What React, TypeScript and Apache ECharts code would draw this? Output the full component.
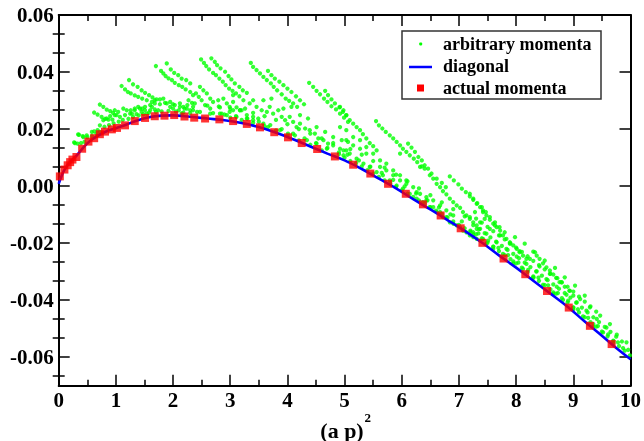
import React, { useEffect, useRef } from "react";
import * as echarts from "echarts";

const FONT = "Liberation Serif, Times New Roman, Times, serif";

// axis ticks
const xTickValues = [0, 1, 2, 3, 4, 5, 6, 7, 8, 9, 10];
const yTickValues = [-0.06, -0.04, -0.02, 0, 0.02, 0.04, 0.06];

// actual momenta (red squares)
const actualMomenta: [number, number][] = [
  [0.02, 0.0034], [0.10, 0.0058], [0.157, 0.0073], [0.20, 0.0084], [0.24, 0.0093],
  [0.31, 0.0102], [0.41, 0.0131], [0.52, 0.0156], [0.62, 0.0168], [0.72, 0.0182],
  [0.81, 0.0191], [0.93, 0.0199], [1.02, 0.0204], [1.16, 0.0213], [1.33, 0.0228],
  [1.51, 0.0239], [1.68, 0.0245], [1.85, 0.0247], [2.02, 0.0249], [2.20, 0.0244],
  [2.37, 0.0240], [2.56, 0.0237], [2.81, 0.0234], [3.05, 0.0228], [3.29, 0.0218],
  [3.52, 0.0206], [3.77, 0.0189], [4.01, 0.0171], [4.25, 0.0151], [4.52, 0.0130],
  [4.83, 0.0104], [5.15, 0.0075], [5.45, 0.0044], [5.76, 0.0008], [6.07, -0.0027],
  [6.37, -0.0064], [6.68, -0.0103], [7.03, -0.0148], [7.41, -0.0199], [7.78, -0.0254],
  [8.16, -0.0309], [8.54, -0.0368], [8.92, -0.0426], [9.29, -0.0490], [9.67, -0.0554],
];

// diagonal (blue line)
const diagonal: [number, number][] = [
  [0, 0.0008], [0.05, 0.0035], [0.1, 0.0057], [0.2, 0.0085], [0.3, 0.0104], [0.4, 0.0128],
  [0.5, 0.0150], [0.6, 0.0166], [0.8, 0.0189], [1.0, 0.0203], [1.2, 0.0217], [1.4, 0.0232],
  [1.6, 0.0242], [1.8, 0.0247], [2.0, 0.0248], [2.3, 0.0243], [2.6, 0.0237], [2.9, 0.0231],
  [3.2, 0.0221], [3.5, 0.0207], [3.8, 0.0187], [4.1, 0.0164], [4.4, 0.0139], [4.7, 0.0114],
  [5.0, 0.0090], [5.3, 0.0060], [5.6, 0.0026], [5.9, -0.0008], [6.2, -0.0046], [6.5, -0.0082],
  [6.8, -0.0119], [7.1, -0.0157], [7.4, -0.0198], [7.7, -0.0243], [8.0, -0.0286], [8.3, -0.0332],
  [8.6, -0.0377], [8.9, -0.0423], [9.2, -0.0475], [9.5, -0.0525], [9.8, -0.0576], [10, -0.0607],
];

// arbitrary momenta (green dots), grouped by region
const greenLow: [number, number][] = [
  [0.285, 0.0151], [0.34, 0.0181], [0.42, 0.0175], [0.49, 0.0178], [0.58, 0.0190], [0.27, 0.0153],
  [0.33, 0.0149], [0.39, 0.0151], [0.45, 0.0155], [0.355, 0.0180], [0.43, 0.0172], [0.50, 0.0172],
  [0.58, 0.0175], [0.66, 0.0184], [0.72, 0.0190], [0.62, 0.0192], [0.68, 0.0196], [0.72, 0.0213],
  [0.78, 0.0231], [0.84, 0.0237], [0.90, 0.0245], [0.98, 0.0249],
  [0.72, 0.0286], [0.78, 0.0278], [0.84, 0.0268], [0.90, 0.0263], [0.95, 0.0257], [1.01, 0.0249], [1.07, 0.0243],
  [0.62, 0.0258], [0.68, 0.0251], [0.75, 0.0243], [0.81, 0.0236], [0.87, 0.0233], [0.94, 0.0233],
  [0.80, 0.0208], [0.88, 0.0214], [0.96, 0.0220], [1.05, 0.0226], [1.12, 0.0232], [1.22, 0.0236],
  [1.30, 0.0243], [1.40, 0.0248], [1.48, 0.0252], [1.58, 0.0258], [1.70, 0.0260], [1.80, 0.0262],
  [1.92, 0.0264], [2.05, 0.0262], [2.18, 0.0258], [2.30, 0.0256],
];

const greenStreaksA: [number, number][] = [
  [1.10, 0.0351], [1.16, 0.0339], [1.21, 0.0330], [1.26, 0.0325], [1.33, 0.0318], [1.39, 0.0313],
  [1.46, 0.0307], [1.54, 0.0301], [1.63, 0.0295], [1.68, 0.0290],
  [1.23, 0.0372], [1.30, 0.0357], [1.38, 0.0348], [1.45, 0.0336], [1.51, 0.0327], [1.58, 0.0319],
  [1.64, 0.0311], [1.71, 0.0304],
  [1.70, 0.0421], [1.79, 0.0404], [1.83, 0.0395], [1.87, 0.0386], [1.92, 0.0378], [1.98, 0.0372],
  [2.03, 0.0362], [2.10, 0.0354], [2.16, 0.0348], [2.22, 0.0339], [2.30, 0.0330],
  [1.89, 0.0430], [1.96, 0.0409], [2.02, 0.0397], [2.09, 0.0389], [2.15, 0.0377], [2.23, 0.0372], [2.30, 0.0360],
];

const greenCloudA: [number, number][] = [
  [0.98, 0.0266], [1.04, 0.0260], [1.13, 0.0272], [1.19, 0.0266], [1.26, 0.0266], [1.33, 0.0272],
  [1.39, 0.0278], [1.46, 0.0272], [1.51, 0.0266], [1.63, 0.0278], [1.68, 0.0301], [1.77, 0.0304],
  [1.83, 0.0307], [1.86, 0.0292], [1.95, 0.0295], [2.03, 0.0284], [2.12, 0.0290], [2.18, 0.0278],
  [2.27, 0.0301], [2.33, 0.0292], [2.35, 0.0278], [1.28, 0.0254], [1.36, 0.0252], [1.45, 0.0260],
  [1.54, 0.0254], [1.60, 0.0266], [1.68, 0.0269], [1.74, 0.0266], [1.16, 0.0249], [1.25, 0.0254],
  [1.33, 0.0266], [1.42, 0.0272], [1.51, 0.0278], [1.60, 0.0284], [1.77, 0.0287], [1.89, 0.0290],
  [2.00, 0.0287], [2.12, 0.0278], [2.24, 0.0272], [2.35, 0.0266], [2.47, 0.0260], [2.65, 0.0254],
  [2.82, 0.0254], [2.99, 0.0260], [3.17, 0.0266], [3.29, 0.0249], [3.40, 0.0243], [2.20, 0.0272],
  [2.25, 0.0284], [2.30, 0.0266], [2.38, 0.0290], [2.42, 0.0260], [2.45, 0.0313], [2.40, 0.0325],
  [2.35, 0.0319], [2.10, 0.0266], [2.00, 0.0272], [1.95, 0.0278], [2.15, 0.0255],
];

const greenStreaksB: [number, number][] = [
  [2.49, 0.0444], [2.54, 0.0432], [2.58, 0.0421], [2.63, 0.0409], [2.70, 0.0397], [2.75, 0.0389],
  [2.81, 0.0377], [2.87, 0.0366], [2.92, 0.0354], [2.98, 0.0342], [3.04, 0.0334], [3.10, 0.0325], [3.16, 0.0315],
  [2.67, 0.0448], [2.73, 0.0436], [2.77, 0.0424], [2.83, 0.0413], [2.91, 0.0401], [2.97, 0.0386],
  [3.02, 0.0374], [3.08, 0.0360], [3.16, 0.0348], [3.22, 0.0336], [3.29, 0.0327],
  [3.36, 0.0432], [3.40, 0.0418], [3.46, 0.0407], [3.52, 0.0395], [3.58, 0.0383], [3.64, 0.0372],
  [3.71, 0.0360], [3.76, 0.0348], [3.82, 0.0336], [3.90, 0.0322], [3.97, 0.0307], [4.03, 0.0299],
  [4.10, 0.0290], [4.17, 0.0278],
  [3.66, 0.0404], [3.72, 0.0389], [3.78, 0.0377], [3.86, 0.0366], [3.93, 0.0354], [4.00, 0.0342],
  [4.07, 0.0330], [4.15, 0.0315], [4.22, 0.0301], [4.29, 0.0287],
  [4.38, 0.0362], [4.45, 0.0348], [4.51, 0.0334], [4.57, 0.0322], [4.64, 0.0307], [4.70, 0.0295],
  [4.77, 0.0280], [4.85, 0.0269], [4.92, 0.0254], [4.99, 0.0240], [5.06, 0.0225],
  [4.66, 0.0334], [4.71, 0.0319], [4.77, 0.0304], [4.83, 0.0290], [4.91, 0.0276], [4.97, 0.0260], [5.03, 0.0248],
  [4.92, 0.0278], [4.98, 0.0266], [5.03, 0.0249], [5.09, 0.0231], [5.15, 0.0219], [5.21, 0.0207],
  [5.27, 0.0196], [5.32, 0.0182], [5.38, 0.0167], [5.44, 0.0151], [5.50, 0.0140], [5.56, 0.0125],
];

const greenCloudB: [number, number][] = [
  [2.47, 0.0348], [2.53, 0.0336], [2.59, 0.0325], [2.50, 0.0301], [2.56, 0.0284], [2.65, 0.0307],
  [2.70, 0.0295], [2.79, 0.0301], [2.88, 0.0307], [2.94, 0.0290], [2.99, 0.0278], [3.05, 0.0295],
  [3.11, 0.0276], [3.17, 0.0266], [3.26, 0.0272], [3.34, 0.0290], [3.40, 0.0301], [3.46, 0.0278],
  [3.55, 0.0266], [3.64, 0.0260], [3.69, 0.0278], [3.75, 0.0254], [3.84, 0.0266], [3.90, 0.0243],
  [3.96, 0.0231], [4.04, 0.0243], [4.10, 0.0225], [4.16, 0.0207], [4.22, 0.0219], [4.31, 0.0202],
  [4.39, 0.0196], [4.48, 0.0184], [4.54, 0.0167], [4.63, 0.0161], [4.71, 0.0149], [4.80, 0.0143],
  [4.92, 0.0131], [5.03, 0.0125], [2.85, 0.0254], [2.94, 0.0249], [3.11, 0.0243], [3.29, 0.0237],
  [3.40, 0.0231], [3.49, 0.0237], [3.58, 0.0219], [3.66, 0.0207], [3.87, 0.0196], [4.01, 0.0184],
  [4.13, 0.0178], [4.34, 0.0161], [4.51, 0.0149], [4.69, 0.0131], [4.98, 0.0108], [3.05, 0.0319],
  [3.23, 0.0301], [3.58, 0.0301], [3.72, 0.0307], [3.93, 0.0272], [4.07, 0.0278], [4.22, 0.0249],
  [4.36, 0.0237], [4.51, 0.0207], [4.66, 0.0190], [4.80, 0.0172], [4.95, 0.0161], [5.06, 0.0155],
  [3.05, 0.0266], [2.82, 0.0276], [2.65, 0.0272],
  [3.0, 0.0240], [3.2, 0.0232], [3.4, 0.0222], [3.6, 0.0210], [3.8, 0.0195], [4.0, 0.0178],
  [4.2, 0.0160], [4.4, 0.0145], [4.6, 0.0125],
  [2.7, 0.0256], [2.9, 0.0251], [3.1, 0.0245], [3.3, 0.0237], [3.5, 0.0226], [3.7, 0.0214],
  [3.9, 0.0200], [4.1, 0.0184], [4.3, 0.0167], [4.5, 0.0151], [4.7, 0.0134], [4.9, 0.0118],
  [2.6, 0.0282], [2.8, 0.0279], [3.0, 0.0272], [3.2, 0.0266], [3.4, 0.0257], [3.6, 0.0245],
  [3.8, 0.0232], [4.0, 0.0217], [4.2, 0.0200], [4.4, 0.0184], [4.6, 0.0167], [4.8, 0.0151],
];

const greenStreaksC: [number, number][] = [
  [5.55, 0.0228], [5.60, 0.0213], [5.66, 0.0202], [5.72, 0.0190], [5.79, 0.0178], [5.85, 0.0167],
  [5.91, 0.0155], [5.97, 0.0143], [6.02, 0.0131], [6.08, 0.0120], [6.14, 0.0108], [6.21, 0.0096],
  [6.27, 0.0084], [6.35, 0.0069], [6.40, 0.0061],
  [6.11, 0.0149], [6.17, 0.0135], [6.23, 0.0120], [6.29, 0.0102], [6.35, 0.0090], [6.40, 0.0073],
  [6.46, 0.0061], [6.52, 0.0044], [6.61, 0.0026], [6.70, 0.0011], [6.77, -0.0004],
  [5.97, 0.0114], [6.32, 0.0067], [6.49, 0.0038], [6.55, 0.0026], [6.61, 0.0008], [6.67, -0.0004],
  [6.72, -0.0018], [6.78, -0.0029], [6.84, -0.0044], [6.90, -0.0056], [6.96, -0.0068], [7.02, -0.0076],
  [7.07, -0.0091], [7.13, -0.0103], [7.19, -0.0115], [7.25, -0.0127], [7.31, -0.0138], [7.37, -0.0150],
  [6.84, 0.0034], [6.91, 0.0020], [6.99, 0.0006], [7.05, -0.0009], [7.12, -0.0021], [7.19, -0.0036],
  [7.25, -0.0048], [7.32, -0.0060], [7.40, -0.0074], [7.47, -0.0091], [7.42, -0.0085], [7.54, -0.0109],
  [7.63, -0.0127], [7.71, -0.0144],
];

const greenCloudC: [number, number][] = [
  [4.92, 0.0207], [5.03, 0.0196], [5.15, 0.0172], [5.27, 0.0161], [5.38, 0.0137], [5.50, 0.0114],
  [5.62, 0.0090], [5.73, 0.0079], [5.85, 0.0055], [5.97, 0.0038], [6.08, 0.0020], [6.20, -0.0004],
  [6.32, -0.0027], [6.43, -0.0050], [6.55, -0.0074], [6.67, -0.0091], [6.78, -0.0109], [6.90, -0.0132],
  [7.02, -0.0144], [7.13, -0.0162], [7.25, -0.0179], [7.37, -0.0191], [7.48, -0.0202],
  [4.98, 0.0125], [5.09, 0.0114], [5.21, 0.0096], [5.33, 0.0079], [5.44, 0.0067], [5.56, 0.0049],
  [5.67, 0.0038], [5.79, 0.0020], [5.91, 0.0002], [6.02, -0.0009], [6.14, -0.0027], [6.26, -0.0044],
  [6.37, -0.0056], [6.49, -0.0074], [6.61, -0.0091], [6.72, -0.0109], [6.84, -0.0127], [6.96, -0.0138],
  [7.07, -0.0156], [7.19, -0.0173], [7.31, -0.0185],
  [5.03, 0.0161], [5.15, 0.0143], [5.27, 0.0131], [5.38, 0.0114], [5.62, 0.0067], [5.73, 0.0055],
  [5.85, 0.0038], [5.97, 0.0020], [6.08, 0.0008], [6.26, -0.0021], [6.43, -0.0039], [6.55, -0.0050],
  [6.67, -0.0068], [6.78, -0.0085], [6.90, -0.0103],
  [4.9, 0.0112], [5.0, 0.0100], [5.1, 0.0088], [5.2, 0.0080], [5.3, 0.0069], [5.4, 0.0056],
  [5.5, 0.0044], [5.6, 0.0032], [5.7, 0.0020], [5.8, 0.0010], [5.9, -0.0002], [6.0, -0.0015],
  [6.1, -0.0027], [6.2, -0.0038], [6.3, -0.0050], [6.4, -0.0062], [6.5, -0.0074], [6.6, -0.0086],
  [6.7, -0.0098], [6.8, -0.0110], [6.9, -0.0124], [7.0, -0.0136], [7.1, -0.0148], [7.2, -0.0160],
  [5.05, 0.0110], [5.25, 0.0090], [5.45, 0.0068], [5.65, 0.0046], [5.85, 0.0022], [6.05, -0.0001],
  [6.25, -0.0026], [6.45, -0.0050], [6.65, -0.0075], [6.85, -0.0099], [7.05, -0.0124],
  [5.1, 0.0130], [5.3, 0.0110], [5.5, 0.0088], [5.7, 0.0065], [5.9, 0.0040], [6.1, 0.0017],
  [6.3, -0.0008], [6.5, -0.0032], [6.7, -0.0057], [6.9, -0.0081], [7.1, -0.0106],
];

const greenHigh: [number, number][] = [
  [7.19, -0.0027], [7.25, -0.0044], [7.31, -0.0062], [7.37, -0.0074], [7.42, -0.0091], [7.48, -0.0103],
  [7.54, -0.0118], [7.60, -0.0132], [7.66, -0.0144], [7.72, -0.0156], [7.77, -0.0173], [7.83, -0.0185],
  [7.89, -0.0197], [7.95, -0.0208], [8.01, -0.0220], [8.06, -0.0232], [8.12, -0.0244], [8.18, -0.0255],
  [8.30, -0.0230], [8.36, -0.0244], [8.41, -0.0255], [8.47, -0.0271], [8.53, -0.0285], [8.59, -0.0296],
  [8.65, -0.0310], [8.72, -0.0323], [8.79, -0.0337], [8.85, -0.0353], [8.93, -0.0367], [9.00, -0.0384],
  [7.25, -0.0169], [7.60, -0.0220], [7.95, -0.0271], [8.30, -0.0322], [8.65, -0.0378], [9.00, -0.0433],
  [9.35, -0.0493], [9.70, -0.0551], [9.99, -0.0594],
  [7.25, -0.0162], [7.42, -0.0185], [7.60, -0.0212], [7.77, -0.0238], [7.95, -0.0264], [8.12, -0.0290],
  [8.30, -0.0320], [8.47, -0.0346], [8.65, -0.0373], [8.82, -0.0399], [9.00, -0.0427], [9.17, -0.0457],
  [9.35, -0.0484], [9.52, -0.0513], [9.70, -0.0542], [9.87, -0.0568],
  [7.34, -0.0166], [7.51, -0.0191], [7.69, -0.0217], [7.86, -0.0242], [8.04, -0.0268], [8.21, -0.0294],
  [8.39, -0.0321], [8.56, -0.0348], [8.73, -0.0375], [8.91, -0.0402], [9.08, -0.0432], [9.26, -0.0462],
  [9.43, -0.0491], [9.61, -0.0520], [9.78, -0.0548], [9.96, -0.0574],
  [7.31, -0.0150], [7.48, -0.0167], [7.66, -0.0197], [7.83, -0.0220], [8.01, -0.0247], [8.18, -0.0273],
  [8.36, -0.0299], [8.53, -0.0326], [8.71, -0.0353], [8.88, -0.0381], [9.06, -0.0408], [9.23, -0.0437],
  [9.41, -0.0466], [9.58, -0.0496], [9.76, -0.0521], [9.93, -0.0548],
  [7.19, -0.0109], [7.37, -0.0127], [7.54, -0.0150], [7.72, -0.0173], [7.89, -0.0202], [8.06, -0.0228],
  [8.24, -0.0255], [8.41, -0.0282], [8.59, -0.0308], [8.76, -0.0337], [8.94, -0.0367], [9.12, -0.0396],
  [9.29, -0.0425], [9.47, -0.0454], [9.64, -0.0484],
  [7.28, -0.0091], [7.45, -0.0115], [7.63, -0.0138], [7.80, -0.0162], [7.98, -0.0179], [8.15, -0.0202],
  [8.33, -0.0232], [8.50, -0.0261], [8.68, -0.0287], [8.85, -0.0320], [9.03, -0.0349], [9.20, -0.0384],
];

const greenBand: [number, number][] = [
  [7.2, -0.0156], [7.3, -0.0169], [7.4, -0.0183], [7.5, -0.0198], [7.6, -0.0213], [7.7, -0.0228],
  [7.8, -0.0242], [7.9, -0.0256], [8.0, -0.0271], [8.1, -0.0286], [8.2, -0.0301], [8.3, -0.0317],
  [8.4, -0.0332], [8.5, -0.0347], [8.6, -0.0362], [8.7, -0.0377], [8.8, -0.0393], [8.9, -0.0408],
  [9.0, -0.0425], [9.1, -0.0443], [9.2, -0.0460], [9.3, -0.0477], [9.4, -0.0493], [9.5, -0.0510],
  [9.6, -0.0527], [9.7, -0.0544], [9.8, -0.0561], [9.9, -0.0577],
  [7.25, -0.0137], [7.35, -0.0151], [7.45, -0.0165], [7.55, -0.0180], [7.65, -0.0195], [7.75, -0.0210],
  [7.85, -0.0224], [7.95, -0.0238], [8.05, -0.0253], [8.15, -0.0268], [8.25, -0.0284], [8.35, -0.0299],
  [8.45, -0.0314], [8.55, -0.0330], [8.65, -0.0345], [8.75, -0.0360], [8.85, -0.0375], [8.95, -0.0391],
  [9.05, -0.0409], [9.15, -0.0426], [9.25, -0.0443], [9.35, -0.0460], [9.45, -0.0477], [9.55, -0.0494],
  [9.65, -0.0511], [9.75, -0.0528], [9.85, -0.0545],
  [7.3, -0.0114], [7.4, -0.0128], [7.5, -0.0143], [7.6, -0.0158], [7.7, -0.0173], [7.8, -0.0187],
  [7.9, -0.0201], [8.0, -0.0216], [8.1, -0.0231], [8.2, -0.0246], [8.3, -0.0262], [8.4, -0.0277],
  [8.5, -0.0292], [8.6, -0.0307], [8.7, -0.0322], [8.8, -0.0338], [8.9, -0.0353], [9.0, -0.0370],
  [9.1, -0.0388], [9.2, -0.0405], [9.3, -0.0422], [9.4, -0.0440],
];

const legendNames = ["arbitrary momenta", "diagonal", "actual momenta"];

export default function App() {
  const ref = useRef<HTMLDivElement>(null);
  useEffect(() => {
    const chart = echarts.init(ref.current!, null, { renderer: "svg" });
    const green = [
      ...greenLow, ...greenStreaksA, ...greenCloudA, ...greenStreaksB, ...greenCloudB,
      ...greenStreaksC, ...greenCloudC, ...greenHigh, ...greenBand,
    ];
    const yMinor: number[] = [-0.06 - 0.02 / 3];
    for (let i = 0; i < yTickValues.length - 1; i++) {
      yMinor.push(yTickValues[i] + 0.02 / 3, yTickValues[i] + 0.04 / 3);
    }
    const lineStyle = { color: "#000", width: 2 };
    const tickStyle = { color: "#000", width: 1.5 };
    const labelStyle = { color: "#000", fontSize: 21, fontWeight: "bold" as const, fontFamily: FONT };
    const xBase = {
      type: "value" as const, min: 0, max: 10, interval: 1,
      axisLine: { show: true, onZero: false, lineStyle },
      axisTick: { show: true, inside: true, length: 11, lineStyle: tickStyle },
      minorTick: { show: true, splitNumber: 2, length: 6, lineStyle: tickStyle },
      splitLine: { show: false }, minorSplitLine: { show: false },
    };
    const yBase = {
      type: "value" as const, min: -0.07, max: 0.06,
      splitLine: { show: false },
    };
    chart.setOption({
      animation: false,
      grid: { left: 58.7, right: 13.3, top: 15, bottom: 55.3 },
      xAxis: [
        { ...xBase, position: "bottom",
          axisLabel: { ...labelStyle, margin: 4, customValues: xTickValues, formatter: (v: number) => String(v) } },
        { ...xBase, position: "top", axisLabel: { show: false } },
      ],
      yAxis: [
        { ...yBase, position: "left",
          axisLine: { show: true, onZero: false, lineStyle },
          axisTick: { show: true, inside: true, length: 11, lineStyle: tickStyle, customValues: yTickValues },
          axisLabel: { ...labelStyle, margin: 5, customValues: yTickValues, formatter: (v: number) => v.toFixed(2) } },
        { ...yBase, position: "left", axisLine: { show: false },
          axisTick: { show: true, inside: true, length: 6, lineStyle: tickStyle, customValues: yMinor },
          axisLabel: { show: false } },
        { ...yBase, position: "right",
          axisLine: { show: true, onZero: false, lineStyle },
          axisTick: { show: true, inside: true, length: 11, lineStyle: tickStyle, customValues: yTickValues },
          axisLabel: { show: false } },
        { ...yBase, position: "right", axisLine: { show: false },
          axisTick: { show: true, inside: true, length: 6, lineStyle: tickStyle, customValues: yMinor },
          axisLabel: { show: false } },
      ],
      series: [
        { name: legendNames[0], type: "scatter", data: green, symbol: "circle", symbolSize: 4.3,
          itemStyle: { color: "#00ff00" }, z: 2 },
        { name: legendNames[1], type: "line", data: diagonal, smooth: 0.4, showSymbol: false,
          lineStyle: { color: "#0000ff", width: 2.6 }, z: 3 },
        { name: legendNames[2], type: "scatter", data: actualMomenta, symbol: "rect", symbolSize: 8,
          itemStyle: { color: "#ff0000" }, z: 4 },
      ],
      graphic: [
        { type: "rect", z: 100, shape: { x: 402, y: 31, width: 199, height: 68 },
          style: { fill: "#fff", stroke: "#333", lineWidth: 1.5 } },
        { type: "circle", z: 101, shape: { cx: 420.7, cy: 44, r: 1.6 }, style: { fill: "#00ff00" } },
        { type: "line", z: 101, shape: { x1: 409, y1: 67, x2: 432, y2: 67 },
          style: { stroke: "#0000ff", lineWidth: 2.5 } },
        { type: "rect", z: 101, shape: { x: 417, y: 84.5, width: 7, height: 7 }, style: { fill: "#ff0000" } },
        ...legendNames.map((t, i) => ({
          type: "text", z: 101, x: 443, y: [43.5, 66, 88][i],
          style: { text: t, fontSize: 18, fontWeight: "bold", fontFamily: FONT, fill: "#000",
            textVerticalAlign: "middle", verticalAlign: "middle", textAlign: "left", align: "left" },
        })),
        { type: "text", z: 101, x: 342, y: 430,
          style: { text: "(a p)", fontSize: 22, fontWeight: "bold", fontFamily: FONT, fill: "#000",
            textAlign: "center", align: "center", textVerticalAlign: "middle", verticalAlign: "middle" } },
        { type: "text", z: 101, x: 364.5, y: 417,
          style: { text: "2", fontSize: 13, fontWeight: "bold", fontFamily: FONT, fill: "#000",
            textAlign: "left", align: "left", textVerticalAlign: "middle", verticalAlign: "middle" } },
      ],
    });
    return () => chart.dispose();
  }, []);
  return <div ref={ref} style={{ position: "fixed", left: 0, top: 0, width: 644, height: 441 }} />;
}
